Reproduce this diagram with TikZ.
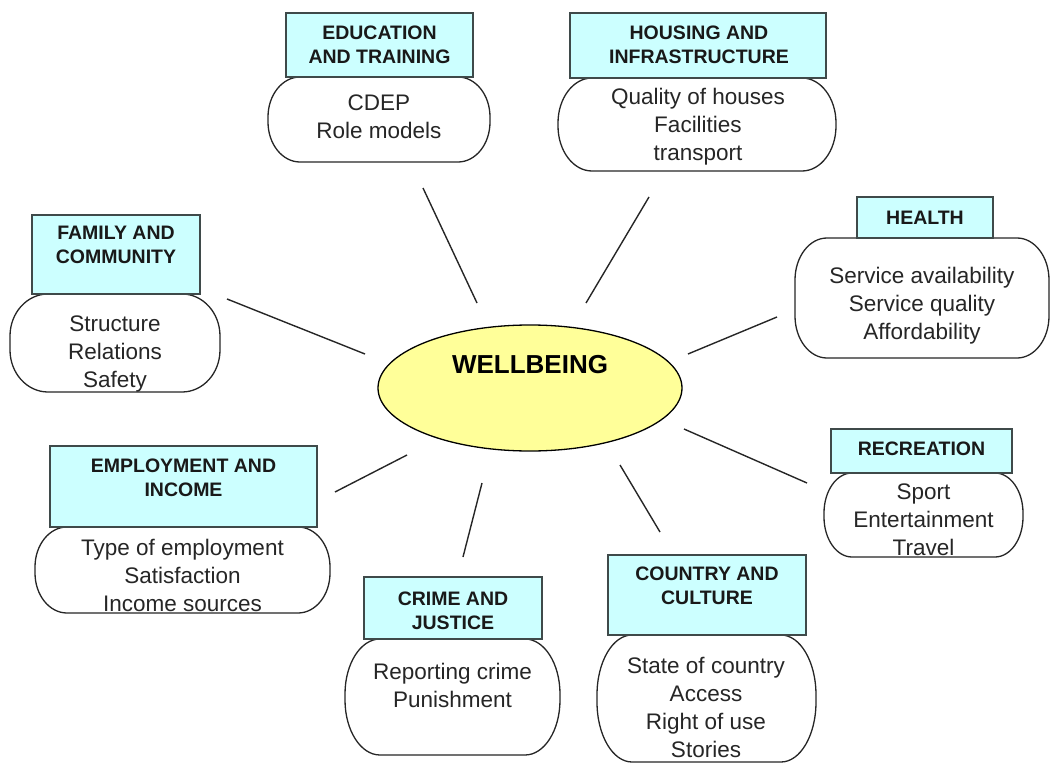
\documentclass[tikz,border=0pt]{standalone}
\usepackage{fontspec}
\setmainfont{Liberation Sans}
\usetikzlibrary{shapes.geometric}
\definecolor{hdrfill}{HTML}{CCFFFF}
\definecolor{hdrline}{HTML}{3F4A4A}
\definecolor{ellfill}{HTML}{FFFF99}
\tikzset{
  hdr/.style={draw=hdrline, fill=hdrfill, line width=1.3pt, inner sep=0pt},
  ttl/.style={font=\fontsize{19.5}{24}\selectfont\bfseries, align=center, inner sep=0pt, text=black!90},
  btxt/.style={font=\fontsize{22.5}{28}\selectfont, align=center, inner sep=0pt, text=black!85},
  bodyline/.style={draw=black!85, fill=white, line width=1.3pt},
  spoke/.style={draw=black!85, line width=1.4pt},
}
\newcommand\bodyshape[6]{%
  \path[bodyline] (#1+#5,#2) -- (#3-#5,#2)
    arc[start angle=270,end angle=360,x radius=#5,y radius=#6] -- (#3,#4-#6)
    arc[start angle=0,end angle=90,x radius=#5,y radius=#6] -- (#1+#5,#4)
    arc[start angle=90,end angle=180,x radius=#5,y radius=#6] -- (#1,#2+#6)
    arc[start angle=180,end angle=270,x radius=#5,y radius=#6] -- cycle;}
\begin{document}
\begin{tikzpicture}[x=1pt,y=-1pt]
\useasboundingbox (0,0) rectangle (1050,765);

% bodies
\bodyshape{10}{294}{220}{392}{38}{42}
\bodyshape{268}{77}{490}{162}{32}{40}
\bodyshape{558}{78}{836}{171}{34}{45}
\bodyshape{795}{238}{1049}{358}{32}{42}
\bodyshape{824}{473}{1023}{557}{28}{40}
\bodyshape{597}{635}{816}{762}{35}{60}
\bodyshape{345}{639}{560}{755}{35}{55}
\bodyshape{35}{527}{330}{613}{32}{40}

% headers
\node[hdr, minimum width=168pt, minimum height=79pt] (famH) at (116,254.5) {};
\node[hdr, minimum width=187pt, minimum height=64pt] (eduH) at (379.5,45) {};
\node[hdr, minimum width=256pt, minimum height=65pt] (houH) at (698,45.5) {};
\node[hdr, minimum width=136pt, minimum height=41pt] (heaH) at (925,217.5) {};
\node[hdr, minimum width=181pt, minimum height=44pt] (recH) at (921.5,451) {};
\node[hdr, minimum width=198pt, minimum height=80pt] (couH) at (707,595) {};
\node[hdr, minimum width=178pt, minimum height=62pt] (criH) at (453,608) {};
\node[hdr, minimum width=267pt, minimum height=81pt] (empH) at (183.5,486.5) {};

% titles
\node[ttl] (famT) at (116,245) {FAMILY AND\\COMMUNITY};
\node[ttl] (eduT) at (379.5,45) {EDUCATION\\AND TRAINING};
\node[ttl] (houT) at (699,44.5) {HOUSING AND\\INFRASTRUCTURE};
\node[ttl] (heaT) at (925,217.5) {HEALTH};
\node[ttl] (recT) at (921.5,448.5) {RECREATION};
\node[ttl] (couT) at (707,586) {COUNTRY AND\\CULTURE};
\node[ttl] (criT) at (453,611) {CRIME AND\\JUSTICE};
\node[ttl] (empT) at (183.5,477.5) {EMPLOYMENT AND\\INCOME};

% body texts
\node[btxt] (famB) at (115,354) {Structure\\Relations\\Safety};
\node[btxt] (eduB) at (379,117) {CDEP\\Role models};
\node[btxt] (houB) at (698,127) {Quality of houses\\Facilities\\transport};
\node[btxt] (heaB) at (922,306) {Service availability\\Service quality\\Affordability};
\node[btxt] (recB) at (923.5,520) {Sport\\Entertainment\\Travel};
\node[btxt] (couB) at (706,707) {State of country\\Access\\Right of use\\Stories};
\node[btxt] (criB) at (452.5,685) {Reporting crime\\Punishment};
\node[btxt] (empB) at (182.5,575) {Type of employment\\Satisfaction\\Income sources};

% centre
\node[ellipse, draw=black, fill=ellfill, line width=1.3pt, minimum width=304pt, minimum height=126pt, inner sep=0pt] (wb) at (530,388) {};
\node[font=\fontsize{26}{30}\selectfont\bfseries, inner sep=0pt] (wbT) at (530,364.5) {WELLBEING};

% spokes
\coordinate (s1a) at (227,299); \coordinate (s1b) at (365,354);
\coordinate (s2a) at (423,188); \coordinate (s2b) at (477,303);
\coordinate (s3a) at (649,197); \coordinate (s3b) at (586,303);
\coordinate (s4a) at (777,317); \coordinate (s4b) at (688,354);
\coordinate (s5a) at (807,483); \coordinate (s5b) at (684,429);
\coordinate (s6a) at (660,532); \coordinate (s6b) at (620,465);
\coordinate (s7a) at (463,557); \coordinate (s7b) at (482,483);
\coordinate (s8a) at (335,492); \coordinate (s8b) at (407,455);
\foreach \i in {1,...,8} {\draw[spoke] (s\i a) -- (s\i b);}
\end{tikzpicture}
\end{document}
